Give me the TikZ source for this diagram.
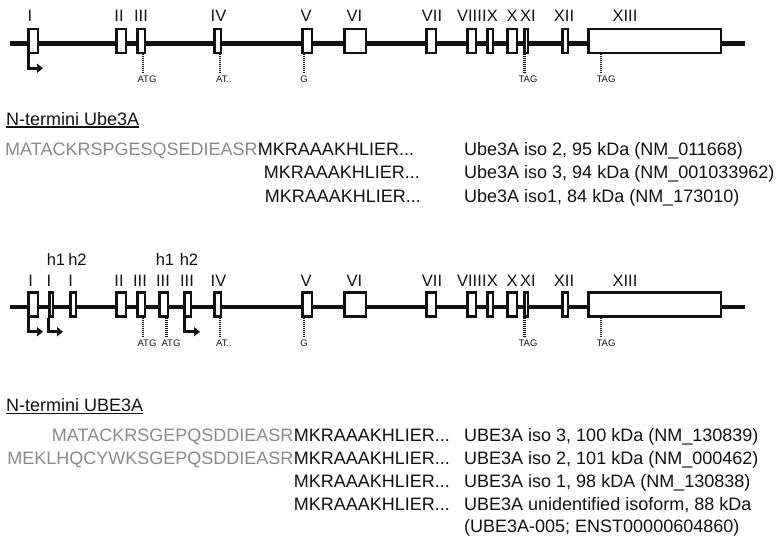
\documentclass[tikz,border=0pt]{standalone}
\usepackage{fontspec}
\setmainfont{Liberation Sans}
\usepackage{tikz}
\usetikzlibrary{arrows.meta}
\definecolor{geInk}{HTML}{111111}
\definecolor{geGray}{HTML}{8A8A8A}
\tikzset{
  geLine/.style={line width=4.2pt,draw=geInk},
  geExon/.style={draw=geInk,fill=white,line width=2.5pt,inner sep=0pt,
    minimum height=24pt},
  geTss/.style={-{Triangle[length=6pt,width=9pt]},line width=3pt,draw=geInk},
  geTick/.style={line width=2.6pt,dash pattern=on 1.2pt off 0.8pt,draw=geInk},
  geRoman/.style={font=\fontsize{16.5}{18}\selectfont,inner sep=0pt,anchor=base,text=geInk},
  geSmall/.style={font=\fontsize{9.5}{11}\selectfont,inner sep=0pt,anchor=base,text=geInk},
  geText/.style={font=\fontsize{18}{20}\selectfont,inner sep=0pt,text=geInk},
  geSeq/.style={geText,text=geGray},
  geHead/.style={geText,anchor=base west}
}

\begin{document}
\begin{tikzpicture}[x=1pt,y=-1pt]
\useasboundingbox (0,0) rectangle (780,539);
\foreach \g/\y/\ey/\ly/\ty in {u/43.5/41/21/82.5,l/307/304.5/286.5/346.5}{
  \coordinate (\g L) at (10,\y);
  \coordinate (\g R) at (745,\y);
  \draw[geLine] (\g L) -- (\g R);
  \foreach \n/\a/\b/\lx in {II/115/127/119,IV/213/222/218.5,V/301/313/306,
      VI/343/367/354.5,VII/425/437/432,VIII/466/477/469.5,IX/486/494/490,
      X/506/518/512,XI/523/529/528,XII/561/569/564,XIII/587/722/625}{
    \pgfmathsetmacro\w{\b-\a-2.5}
    \node[geExon,minimum width=\w pt] (\g\n) at ({(\a+\b)/2},\ey) {};
    \node[geRoman] (\g\n-lbl) at (\lx,\ly) {\n};
  }
  \draw[geTick] ([xshift=2.5pt]\g IV.south) -- ++(0,18.5);
  \node[geSmall] (\g Atx) at (224,\ty) {AT..};
  \draw[geTick] ([xshift=-3pt]\g V.south) -- ++(0,18.5);
  \node[geSmall] (\g G) at (304,\ty) {G};
  \draw[geTick] ([xshift=-1.5pt]\g XI.south) -- ++(0,18.5);
  \node[geSmall] (\g TagA) at (528,\ty) {TAG};
  \draw[geTick] ([xshift=-53.5pt]\g XIII.south) -- ++(0,18.5);
  \node[geSmall] (\g TagB) at (606,\ty) {TAG};
}
% mouse gene, first exons
\foreach \n/\a/\b/\lx in {I/27/39/30,III/136/146/141}{
  \pgfmathsetmacro\w{\b-\a-2.5}
  \node[geExon,minimum width=\w pt] (u\n) at ({(\a+\b)/2},41) {};
  \node[geRoman] (u\n-lbl) at (\lx,21) {\n};
}
\draw[geTss] ([xshift=-5pt]uI.south) -- ++(0,14) -- ++(15,0);
\draw[geTick] ([xshift=2pt]uIII.south) -- ++(0,18.5);
\node[geSmall] (uAtg) at (147,82.5) {ATG};
% human gene, first exons
\foreach \n/\a/\b/\lx/\t in {I/27/39/30.7/I,Ih1/48/54/49/I,Ih2/69/77/70.7/I,
    III/136/146/140/III,IIIh1/158/169/163/III,IIIh2/183/192/187/III}{
  \pgfmathsetmacro\w{\b-\a-2.5}
  \node[geExon,minimum width=\w pt] (l\n) at ({(\a+\b)/2},304.5) {};
  \node[geRoman] (l\n-lbl) at (\lx,286.5) {\t};
}
\node[geRoman] (lHoneA) at (56,265) {h1};
\node[geRoman] (lHtwoA) at (77.5,265) {h2};
\node[geRoman] (lHoneB) at (165,265) {h1};
\node[geRoman] (lHtwoB) at (189,265) {h2};
\draw[geTss] ([xshift=-4.5pt]lI.south) -- ++(0,14) -- ++(14.5,0);
\draw[geTss] ([xshift=-3pt]lIh1.south) -- ++(0,14) -- ++(15,0);
\draw[geTss] ([xshift=-3.5pt]lIIIh2.south) -- ++(0,14) -- ++(16,0);
\draw[geTick] ([xshift=2pt]lIII.south) -- ++(0,18.5);
\node[geSmall] (lAtgA) at (147,346.5) {ATG};
\draw[geTick] ([xshift=3pt]lIIIh1.south) -- ++(0,18.5);
\node[geSmall] (lAtgB) at (171,346.5) {ATG};
% N-termini, mouse
\node[geHead] (uHead) at (6,125) {N-termini Ube3A};
\draw[line width=1.1pt,geInk] ([yshift=-2pt]uHead.base west) -- ([yshift=-2pt]uHead.base east);
\node[geSeq,anchor=base west] (uSeqA) at (5,155) {MATACKRSPGESQSEDIEASR};
\node[geText,anchor=base west] (uCoreA) at (uSeqA.base east) {MKRAAAKHLIER...};
\node[geText,anchor=base east] (uCoreB) at (420,178.5) {MKRAAAKHLIER...};
\node[geText,anchor=base east] (uCoreC) at (421,202) {MKRAAAKHLIER...};
\node[geText,anchor=base west] (uIsoA) at (464,155) {Ube3A iso 2, 95 kDa (NM\_011668)};
\node[geText,anchor=base west] (uIsoB) at (464,178.5) {Ube3A iso 3, 94 kDa (NM\_001033962)};
\node[geText,anchor=base west] (uIsoC) at (464,202) {Ube3A iso1, 84 kDa (NM\_173010)};
% N-termini, human
\node[geHead] (lHead) at (6,411.5) {N-termini UBE3A};
\draw[line width=1.1pt,geInk] ([yshift=-2pt]lHead.base west) -- ([yshift=-2pt]lHead.base east);
\node[geText,anchor=base east] (lCoreA) at (450,441) {MKRAAAKHLIER...};
\node[geSeq,anchor=base east] (lSeqA) at (lCoreA.base west) {MATACKRSGEPQSDDIEASR};
\node[geText,anchor=base east] (lCoreB) at (450,464) {MKRAAAKHLIER...};
\node[geSeq,anchor=base east] (lSeqB) at (lCoreB.base west) {MEKLHQCYWKSGEPQSDDIEASR};
\node[geText,anchor=base east] (lCoreC) at (450,487) {MKRAAAKHLIER...};
\node[geText,anchor=base east] (lCoreD) at (450,510) {MKRAAAKHLIER...};
\node[geText,anchor=base west] (lIsoA) at (464,441) {UBE3A iso 3, 100 kDa (NM\_130839)};
\node[geText,anchor=base west] (lIsoB) at (464,464) {UBE3A iso 2, 101 kDa (NM\_000462)};
\node[geText,anchor=base west] (lIsoC) at (464,487) {UBE3A iso 1, 98 kDA (NM\_130838)};
\node[geText,anchor=base west] (lIsoD) at (464,510) {UBE3A unidentified isoform, 88 kDa};
\node[geText,anchor=base west] (lIsoE) at (464,532) {(UBE3A-005; ENST00000604860)};
\end{tikzpicture}
\end{document}
